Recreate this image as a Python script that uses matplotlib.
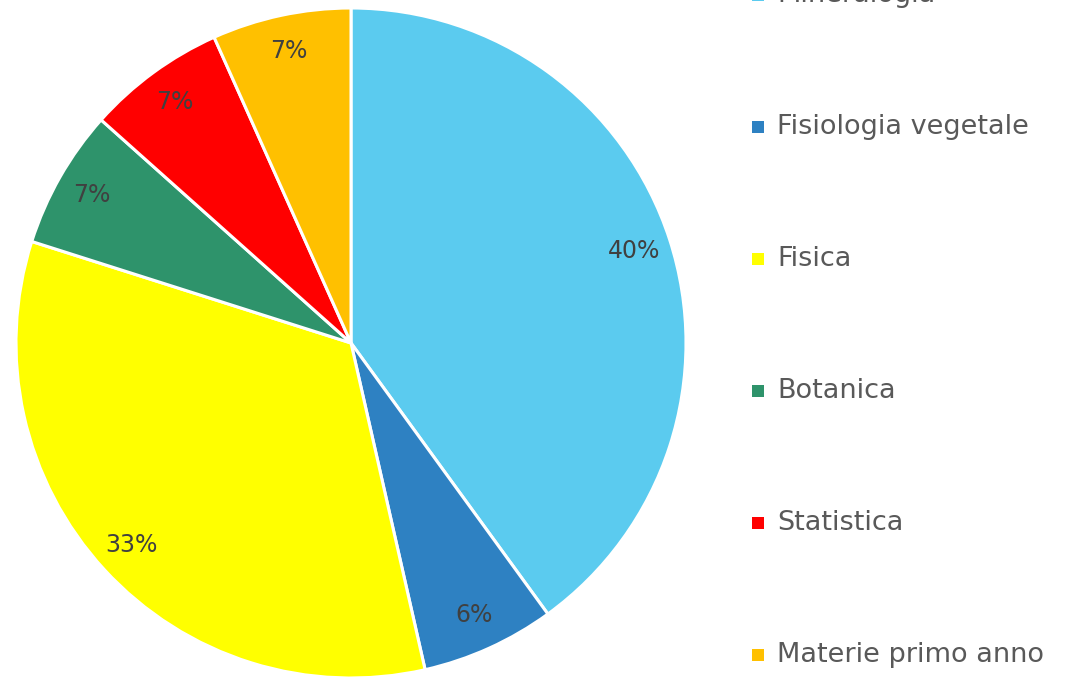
import matplotlib.pyplot as plt
from matplotlib.patches import Rectangle

labels = ['Mineralogia', 'Fisiologia vegetale', 'Fisica', 'Botanica',
          'Statistica', 'Materie primo anno']
values = [40.0, 6.45, 33.45, 6.7, 6.7, 6.7]
colors = ['#5BCBEF', '#2E81C2', '#FFFF00', '#2E936B', '#FF0000', '#FFC000']

W, H = 1066, 677
fig = plt.figure(figsize=(W / 100, H / 100), dpi=100)

# pie centre ~ (351, 343), radius ~335 px
cx, cy, r = 351, 343, 335
ax = fig.add_axes([(cx - r) / W, (H - cy - r) / H, 2 * r / W, 2 * r / H])
wedges, texts, autotexts = ax.pie(
    values, colors=colors, startangle=90, counterclock=False,
    autopct='%1.0f%%', pctdistance=0.89, radius=1,
    wedgeprops=dict(edgecolor='white', linewidth=2.2),
    textprops=dict(color='#404040', fontsize=17))
ax.set_xlim(-1, 1)
ax.set_ylim(-1, 1)
ax.set_aspect('equal')
ax.axis('off')

# legend on the right
y0, step = -5, 132
for i, (lab, col) in enumerate(zip(labels, colors)):
    y = y0 + i * step
    fig.patches.append(Rectangle((752 / W, (H - y - 6) / H), 12 / W, 12 / H,
                                 transform=fig.transFigure, facecolor=col,
                                 edgecolor='none'))
    fig.text(777 / W, (H - y) / H, lab, fontsize=19.5, color='#595959',
             va='center', ha='left')

fig.savefig('out.png', dpi=100)
